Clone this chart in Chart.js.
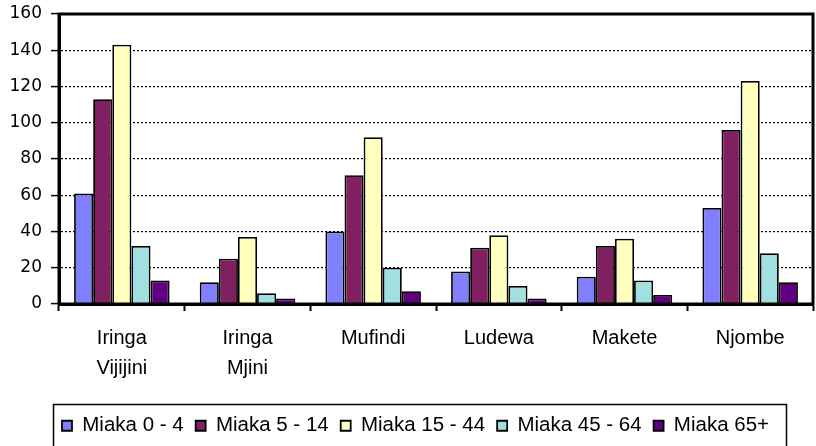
<!DOCTYPE html>
<html>
<head>
<meta charset="utf-8">
<script src="https://cdn.jsdelivr.net/npm/chart.js@4/dist/chart.umd.min.js"></script>
<style>
  html, body { margin: 0; padding: 0; background: #fff; }
  #wrap { width: 816px; height: 446px; position: relative; }
</style>
</head>
<body>
<div id="wrap"><canvas id="c" width="816" height="446"></canvas></div>
<script>
// ---- data ----
const categories = [["Iringa", "Vijijini"], ["Iringa", "Mjini"], "Mufindi", "Ludewa", "Makete", "Njombe"];
const seriesNames = ["Miaka 0 - 4", "Miaka 5 - 14", "Miaka 15 - 44", "Miaka 45 - 64", "Miaka 65+"];
const miaka0_4   = [61, 12, 40, 18, 15, 53];
const miaka5_14  = [113, 25, 71, 31, 32, 96];
const miaka15_44 = [143, 37, 92, 38, 36, 123];
const miaka45_64 = [32, 6, 20, 10, 13, 28];
const miaka65    = [13, 3, 7, 3, 5, 12];
const yMin = 0, yMax = 160, yStep = 20;

// ---- styles ----
const colors = ["#8080FF", "#802060", "#FFFFC0", "#A0E0E0", "#600080"];
const seriesValues = [miaka0_4, miaka5_14, miaka15_44, miaka45_64, miaka65];

const datasets = seriesValues.map((vals, i) => ({
  label: seriesNames[i],
  data: vals,
  backgroundColor: colors[i],
  borderColor: "#000",
  borderWidth: 1.8,
  barPercentage: 1.0,
  categoryPercentage: 0.76
}));

const LEGEND_SHIFT = 9;

const framePlugin = {
  id: "frame",
  afterLayout(chart) {
    const L = chart.legend;
    if (L) { L.left += LEGEND_SHIFT; L.right += LEGEND_SHIFT; }
  },
  afterDraw(chart) {
    const { ctx, chartArea: a, legend: L } = chart;
    ctx.save();
    ctx.strokeStyle = "#000";
    ctx.lineWidth = 3;
    ctx.strokeRect(a.left, a.top, a.right - a.left, a.bottom - a.top);
    if (L && L.lineWidths) {
      const pad = L.options.labels.padding;
      const lw = L.lineWidths[0];
      const start = (L.left + pad + L.right - lw) / 2;
      const end = start + lw - pad;
      const l = start - 9, r = end + 17;
      ctx.lineWidth = 1.5;
      ctx.strokeRect(Math.round(l) + 0.5, Math.round(L.top) + 0.5, Math.round(r - l), chart.height);
    }
    ctx.restore();
  }
};

Chart.defaults.font.family = "'Liberation Sans', Arial, sans-serif";
Chart.defaults.color = "#000";

new Chart(document.getElementById("c"), {
  type: "bar",
  data: { labels: categories, datasets },
  plugins: [framePlugin],
  options: {
    responsive: false,
    animation: false,
    events: [],
    layout: { padding: { left: 0, right: 3, top: 14, bottom: 0 } },
    plugins: {
      tooltip: { enabled: false },
      legend: {
        position: "bottom",
        labels: {
          boxWidth: 10,
          boxHeight: 10,
          padding: 12,
          color: "#000",
          font: { size: 20.5, family: "'Liberation Sans', Arial, sans-serif" }
        }
      }
    },
    scales: {
      x: {
        grid: {
          offset: true,
          drawOnChartArea: false,
          drawTicks: true,
          tickLength: 7,
          tickColor: "#000",
          tickWidth: 2
        },
        border: { display: true, color: "#000", width: 3 },
        ticks: {
          padding: 12,
          maxRotation: 0,
          autoSkip: false,
          color: "#000",
          font: { size: 20, lineHeight: 1.5, family: "'Liberation Sans', Arial, sans-serif" }
        },
        afterFit(scale) { scale.height = 99.5; }
      },
      y: {
        min: yMin,
        max: yMax,
        grid: {
          color: c => (c.tick && (c.tick.value === yMin || c.tick.value === yMax)) ? "rgba(0,0,0,0)" : "#000",
          lineWidth: 1.2,
          tickLength: 8,
          tickColor: "#000",
          tickWidth: 1.5
        },
        border: { display: true, color: "#000", width: 3, dash: [2, 2] },
        ticks: {
          stepSize: yStep,
          padding: 9,
          color: "#000",
          font: { size: 17, family: "'DejaVu Sans', sans-serif" }
        },
        afterFit(scale) { scale.width = 59; scale.paddingTop = 0; scale.paddingBottom = 0; }
      }
    }
  }
});
</script>
</body>
</html>
